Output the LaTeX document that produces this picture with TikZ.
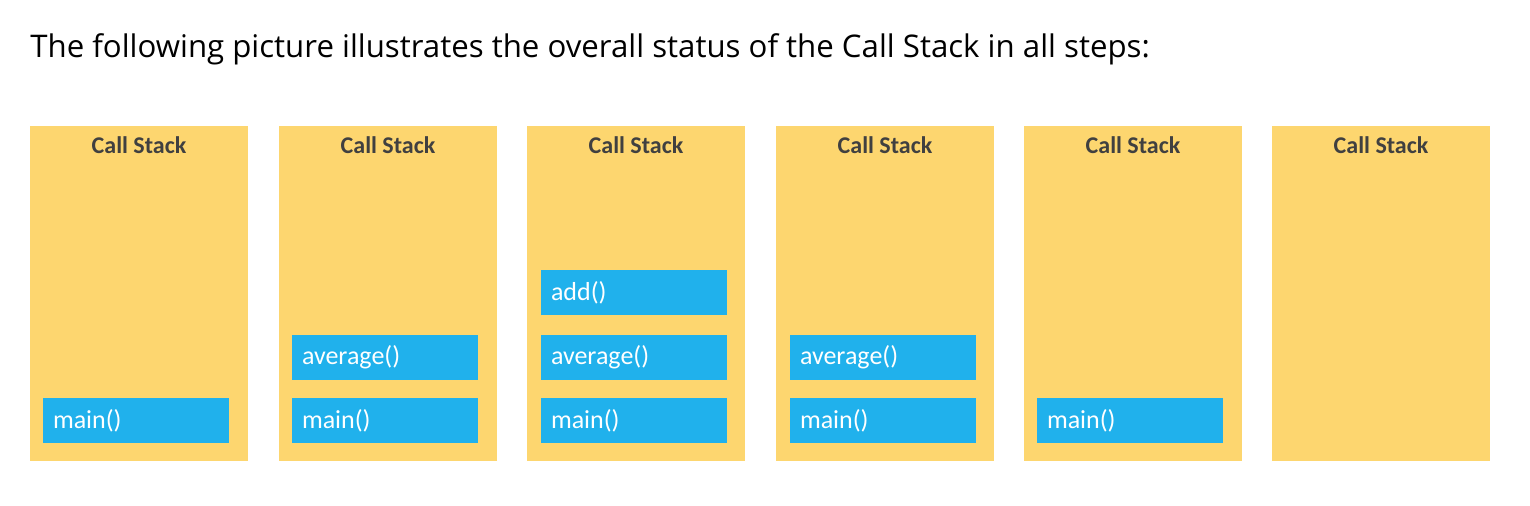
\documentclass[tikz,border=0pt]{standalone}
\usepackage{fontspec}
\setmainfont{Liberation Sans}
\newfontfamily\headfont{Open Sans}
\newfontfamily\calib{Carlito}
\definecolor{stackyellow}{HTML}{FDD66F}
\definecolor{framblue}{HTML}{20B1EC}
\definecolor{titlegrey}{HTML}{404040}
\begin{document}
\begin{tikzpicture}[x=0.5pt,y=-0.5pt,
  panel/.style={fill=stackyellow, draw=none, anchor=north west, inner sep=0pt, outer sep=0pt,
    minimum width=109pt, minimum height=167.5pt},
  ptitle/.style={font=\calib\bfseries\fontsize{12}{14}\selectfont, text=titlegrey, inner sep=0pt},
  frame/.style={fill=framblue, draw=none, inner xsep=5pt, inner ysep=0pt, outer sep=0pt,
    text width=83pt, align=left, minimum height=22.5pt, text=white,
    font=\calib\fontsize{13}{15}\selectfont},
  heading/.style={anchor=base west, inner sep=0pt, font=\headfont\fontsize{15.6}{18}\selectfont}]
\useasboundingbox (0,0) rectangle (1530,506);
\fill[white] (0,0) rectangle (1530,506);
\node[heading] (head) at (30,58) {The following picture illustrates the overall status of the Call Stack in all steps:};
% panels
\node[panel] (p1) at (30,126) {};
\node[panel] (p2) at (279,126) {};
\node[panel] (p3) at (527,126) {};
\node[panel] (p4) at (776,126) {};
\node[panel] (p5) at (1024,126) {};
\node[panel] (p6) at (1272,126) {};
% titles
\node[ptitle] (t1) at (139,145) {Call Stack};
\node[ptitle] (t2) at (388,145) {Call Stack};
\node[ptitle] (t3) at (636,145) {Call Stack};
\node[ptitle] (t4) at (885,145) {Call Stack};
\node[ptitle] (t5) at (1133,145) {Call Stack};
\node[ptitle] (t6) at (1381,145) {Call Stack};
% frames
\node[frame] (m1) at (136,421) {main()};
\node[frame] (m2) at (385,421) {main()};
\node[frame] (a2) at (385,357.5) {average()};
\node[frame] (m3) at (634,421) {main()};
\node[frame] (a3) at (634,357.5) {average()};
\node[frame] (d3) at (634,293) {add()};
\node[frame] (m4) at (883,421) {main()};
\node[frame] (a4) at (883,357.5) {average()};
\node[frame] (m5) at (1130,421) {main()};
\end{tikzpicture}
\end{document}
